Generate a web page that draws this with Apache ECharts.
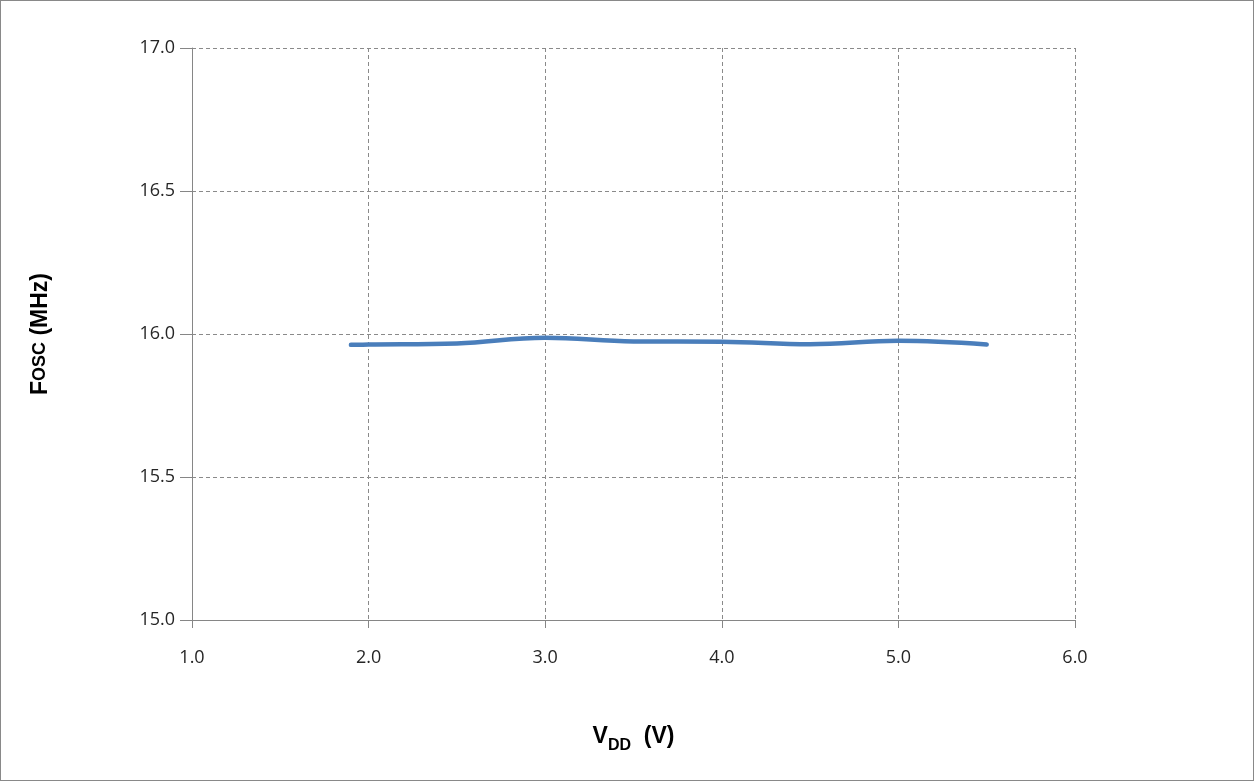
<!DOCTYPE html>
<html><head><meta charset="utf-8">
<script src="https://cdn.jsdelivr.net/npm/echarts@6/dist/echarts.min.js"></script>
<style>
html,body{margin:0;padding:0;background:#fff;}
#c{position:absolute;left:0;top:0;width:1252px;height:779px;border:1px solid #898989;}
</style></head><body>
<div id="c"></div>
<script>
var vdd = [1.9, 2.0, 2.5, 3.0, 3.5, 4.0, 4.5, 5.0, 5.5];
var fosc = [15.962, 15.963, 15.967, 15.987, 15.974, 15.973, 15.964, 15.976, 15.963];
var xTicks = [1.0, 2.0, 3.0, 4.0, 5.0, 6.0];
var yTicks = [15.0, 15.5, 16.0, 16.5, 17.0];

var chart = echarts.init(document.getElementById('c'), null, {renderer:'canvas'});
var data = vdd.map(function(v,i){return [v, fosc[i]];});
var lblFont = 'Open Sans, Liberation Sans, Arial';
chart.setOption({
  animation:false,
  grid:{left:191, right:178, top:47, bottom:160, containLabel:false},
  xAxis:{
    type:'value', min:xTicks[0], max:xTicks[xTicks.length-1], interval:1,
    axisLine:{show:true, lineStyle:{color:'#868686', width:1}},
    axisTick:{show:true, length:8, lineStyle:{color:'#868686'}},
    axisLabel:{formatter:function(v){return v.toFixed(1);}, color:'#262626', fontSize:18, fontFamily:lblFont, margin:29},
    splitLine:{show:true, lineStyle:{color:'#8a8a8a', type:[4,3], width:1}},
    name:'{b|V}{s|DD}{b|  (V)}', nameLocation:'middle', nameGap:102,
    nameTextStyle:{rich:{
      b:{fontSize:23, fontWeight:'bold', fontFamily:'Liberation Sans, Arial', color:'#000', verticalAlign:'bottom', lineHeight:26},
      s:{fontSize:16, fontWeight:'bold', fontFamily:'Liberation Sans, Arial', color:'#000', verticalAlign:'bottom', lineHeight:18, padding:[0,0,-6,0]}
    }}
  },
  yAxis:{
    type:'value', min:15.0, max:17.0, interval:0.5,
    axisLine:{show:true, lineStyle:{color:'#868686', width:1}},
    axisTick:{show:true, length:12, lineStyle:{color:'#868686'}},
    axisLabel:{formatter:function(v){return v.toFixed(1);}, color:'#262626', fontSize:18, fontFamily:lblFont, margin:17},
    splitLine:{show:true, lineStyle:{color:'#8a8a8a', type:[4,3], width:1}},
    name:'{b|F}{s|OSC}{b| (MHz)}', nameLocation:'middle', nameGap:140, nameRotate:90,
    nameTextStyle:{rich:{
      b:{fontSize:23, fontWeight:'bold', fontFamily:'Liberation Sans, Arial', color:'#000'},
      s:{fontSize:18, fontWeight:'bold', fontFamily:'Liberation Sans, Arial', color:'#000'}
    }}
  },
  series:[{
    type:'line', data:data, smooth:0.4, showSymbol:false, symbol:'none',
    lineStyle:{color:'#4a7ebb', width:4.5, cap:'round'}
  }]
});
</script>
</body></html>
